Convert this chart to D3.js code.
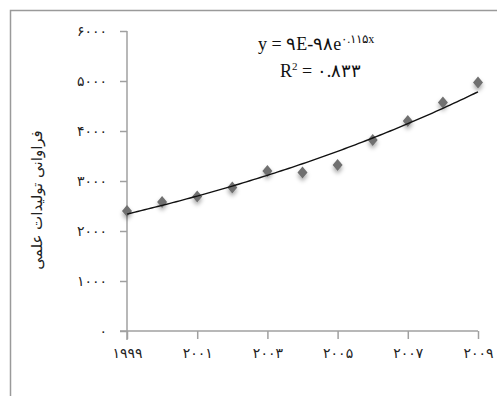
<!DOCTYPE html>
<html><head><meta charset="utf-8">
<script src="https://cdn.jsdelivr.net/npm/d3@7"></script>
<style>
html,body{margin:0;padding:0;background:#fff;}
svg{display:block;}
</style></head>
<body>
<script>
const years = [1999,2000,2001,2002,2003,2004,2005,2006,2007,2008,2009];
const values = [2400,2580,2690,2870,3200,3170,3320,3820,4200,4570,4970];
const xTickValues = [1999,2001,2003,2005,2007,2009];
const xTickLabels = ["۱۹۹۹","۲۰۰۱","۲۰۰۳","۲۰۰۵","۲۰۰۷","۲۰۰۹"];
const yTickValues = [0,1000,2000,3000,4000,5000,6000];
const yTickLabels = ["۰","۱۰۰۰","۲۰۰۰","۳۰۰۰","۴۰۰۰","۵۰۰۰","۶۰۰۰"];
const yTitle = "فراوانی تولیدات علمی";
const eqMain = "y = ۹E-۹۸e";
const eqExp = "۰.۱۱۵x";
const r2Label = "۰.۸۳۳";

const W = 497, H = 396;
const svg = d3.select("body").append("svg").attr("width", W).attr("height", H);

const defs = svg.append("defs");
const f = defs.append("filter").attr("id","sh").attr("x","-100%").attr("y","-100%").attr("width","300%").attr("height","300%");
f.append("feDropShadow").attr("dx",0).attr("dy",3).attr("stdDeviation",2).attr("flood-color","#000").attr("flood-opacity",0.35);

// outer border
svg.append("rect").attr("x",10.5).attr("y",10.5).attr("width",520).attr("height",420)
  .attr("fill","none").attr("stroke","#9a9a9a").attr("stroke-width",1.5);

const x = d3.scaleLinear().domain([1999,2009]).range([127,478]);
const y = d3.scaleLinear().domain([0,6000]).range([331,31]);

const axisColor = "#a0a0a0";
const font = "'DejaVu Sans', sans-serif";

// Y axis
const yAxis = svg.append("g").attr("transform","translate(127,0)")
  .call(d3.axisLeft(y).tickValues(yTickValues).tickSize(7).tickFormat((d,i)=>yTickLabels[i]));
yAxis.select(".domain").attr("stroke",axisColor).attr("stroke-width",1.5).attr("d","M0,31V340");
yAxis.selectAll(".tick line").attr("stroke",axisColor).attr("stroke-width",1.5);
yAxis.selectAll(".tick text").attr("x",-20).attr("font-family",font).attr("font-size",14).attr("fill","#222");

// X axis
const xAxis = svg.append("g").attr("transform","translate(0,331)")
  .call(d3.axisBottom(x).tickValues(xTickValues).tickSize(8).tickFormat((d,i)=>xTickLabels[i]));
xAxis.select(".domain").attr("stroke",axisColor).attr("stroke-width",1.5).attr("d","M120,0H478");
xAxis.selectAll(".tick line").attr("stroke",axisColor).attr("stroke-width",1.5);
xAxis.selectAll(".tick text").attr("y",17).attr("font-family",font).attr("font-size",14).attr("fill","#222");

// Y title
svg.append("text").attr("transform","translate(42,200) rotate(-90)")
  .attr("text-anchor","middle").attr("font-family",font).attr("font-size",15).attr("fill","#222")
  .text(yTitle);

// markers
const diamond = (cx,cy)=>`M${cx},${cy-6}L${cx+5},${cy}L${cx},${cy+6}L${cx-5},${cy}Z`;
svg.append("g").selectAll("path").data(years).join("path")
  .attr("d",(d,i)=>diamond(x(d), y(values[i])))
  .attr("fill","#707070").attr("filter","url(#sh)");

// exponential trendline fit (log-linear least squares)
const lnv = values.map(v=>Math.log(v));
const mx = d3.mean(years), my = d3.mean(lnv);
const b = d3.sum(years,(d,i)=>(d-mx)*(lnv[i]-my))/d3.sum(years,d=>(d-mx)*(d-mx));
const a = my - b*mx;
const trendYears = d3.range(0,101).map(k=>1999+k*0.1);
svg.append("path").datum(trendYears)
  .attr("d",d3.line().x(d=>x(d)).y(d=>y(Math.exp(a+b*d))))
  .attr("fill","none").attr("stroke","#111").attr("stroke-width",1.4);

// equation text
const serif = "'Liberation Serif','Times New Roman',serif";
const eq = svg.append("text").attr("x",258).attr("y",50).attr("font-family",serif).attr("font-size",18).attr("fill","#111");
eq.append("tspan").text(eqMain);
eq.append("tspan").attr("dy",-7).attr("font-size",12).text(eqExp);
const r2 = svg.append("text").attr("x",280).attr("y",77).attr("font-family",serif).attr("font-size",18).attr("fill","#111");
r2.append("tspan").text("R");
r2.append("tspan").attr("dy",-7).attr("font-size",11).text("2");
r2.append("tspan").attr("dy",7).text(" = " + r2Label);
</script>
</body></html>
